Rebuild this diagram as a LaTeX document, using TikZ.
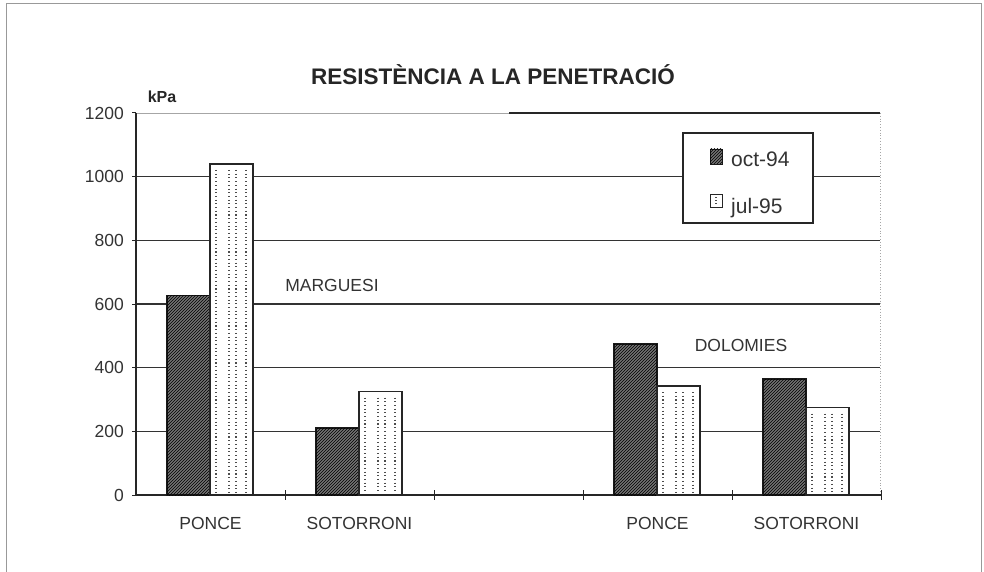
\documentclass[tikz,border=0pt]{standalone}
\usepackage{fontspec}
\setmainfont{Liberation Sans}
\usetikzlibrary{patterns}
\begin{document}
\begin{tikzpicture}[x=1pt,y=-1pt,
  lbl/.style={font=\fontsize{17.5}{20}\selectfont, text=black!80, inner sep=0pt},
  ticklbl/.style={font=\fontsize{17.5}{20}\selectfont, text=black!80, inner sep=0pt, anchor=east},
  leglbl/.style={font=\fontsize{21}{24}\selectfont, text=black!80, inner sep=0pt, anchor=base west},
  gridline/.style={draw=black!80, line width=1.5pt},
  axisline/.style={draw=black!85, line width=1.6pt},
  darkbar/.style={fill=black!55, draw=black!90, line width=1.3pt, postaction={pattern=north east lines, pattern color=black}},
  lightbar/.style={fill=white, draw=black!85, line width=1.2pt},
  dotcol/.style={draw=black!70, line width=1.1pt, dash pattern=on 1.1pt off 2.6pt},
  frameline/.style={draw=black!40, line width=1pt}
]
\useasboundingbox (0,0) rectangle (984,572);
\fill[white] (0,0) rectangle (984,572);
% outer frame
\draw[frameline] (6,572) -- (6,4) -- (981,4) -- (981,572);
% grid lines
\foreach \yy in {431.3,367.7,304,240.3,176.7} {
  \draw[gridline] (136,\yy) -- (880,\yy);
}
\draw[draw=black!35, line width=0.8pt] (136,113) -- (509,113);
\draw[draw=black!85, line width=1.7pt] (509,113) -- (880,113);
\draw[draw=black!35, line width=0.8pt, dotted] (880,113) -- (880,495);
% axes
\draw[axisline] (136,113) -- (136,495) -- (881,495);
\foreach \yy in {113,176.7,240.3,304,367.7,431.3,495} {
  \draw[axisline, line width=1pt] (132,\yy) -- (136,\yy);
}
\foreach \xx in {285,434,583,732,881} {
  \draw[axisline, line width=1pt] (\xx,490) -- (\xx,500);
}
% tick labels
\node[ticklbl] (t0) at (124,495) {0};
\node[ticklbl] (t200) at (124,431.3) {200};
\node[ticklbl] (t400) at (124,367.7) {400};
\node[ticklbl] (t600) at (124,304) {600};
\node[ticklbl] (t800) at (124,240.3) {800};
\node[ticklbl] (t1000) at (124,176.7) {1000};
\node[ticklbl] (t1200) at (124,113) {1200};
% bars
\foreach \c/\da/\lb in {136/295.5/164, 285/428/391.5, 583/344/386, 732/379/407.5} {
  \path[darkbar] (\c+31,495) rectangle (\c+74,\da);
  \path[lightbar] (\c+74,495) rectangle (\c+117,\lb);
  \foreach \o in {6,19,26,36} {
    \draw[dotcol] (\c+74+\o,\lb+6) -- (\c+74+\o,492);
  }
}
% legend
\node[draw=black!85, line width=1.2pt, fill=white, minimum width=130pt, minimum height=90pt, inner sep=0pt] (legend) at (748,178) {};
\path[darkbar, line width=0.8pt] (710,149) rectangle (722,164);
\path[lightbar, line width=0.8pt] (710,194) rectangle (722,207);
\draw[dotcol, dash pattern=on 1pt off 2pt] (716,197) -- (716,205);
\node[leglbl] (oct) at (731,167) {oct-94};
\node[leglbl] (jul) at (731,213) {jul-95};
% title and labels
\node[inner sep=0pt, text=black!85, font=\bfseries\fontsize{22.5}{26}\selectfont] (title) at (493,75) {RESISTÈNCIA A LA PENETRACIÓ};
\node[inner sep=0pt, text=black!85, font=\bfseries\fontsize{16}{18}\selectfont] (kpa) at (162,97) {kPa};
\node[lbl] (marg) at (332,285) {MARGUESI};
\node[lbl] (dolo) at (741,345) {DOLOMIES};
\node[lbl] (p1) at (210.5,523) {PONCE};
\node[lbl] (s1) at (359.5,523) {SOTORRONI};
\node[lbl] (p2) at (657.5,523) {PONCE};
\node[lbl] (s2) at (806.5,523) {SOTORRONI};
\end{tikzpicture}
\end{document}
